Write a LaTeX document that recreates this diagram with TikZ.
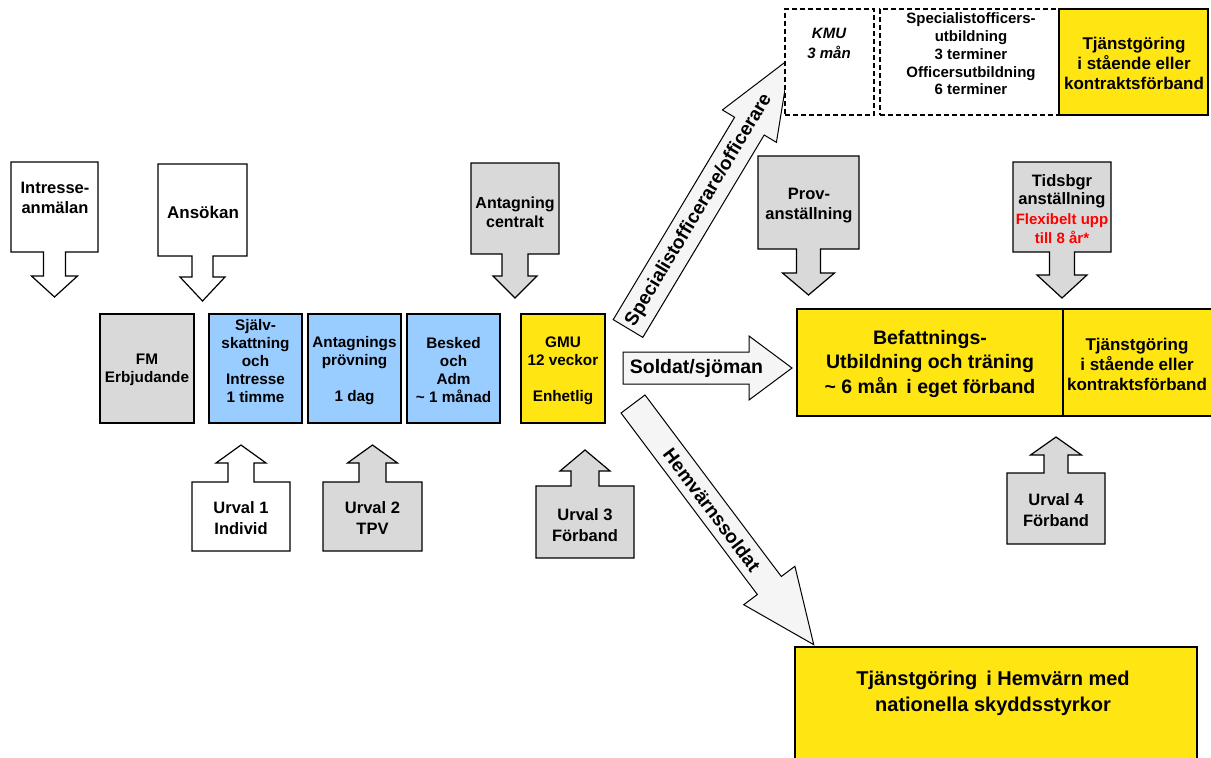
\documentclass[tikz,border=0pt]{standalone}
\usepackage{fontspec}
\setmainfont{Liberation Sans}
\definecolor{fmgray}{HTML}{D9D9D9}
\definecolor{fmblue}{HTML}{99CCFF}
\definecolor{fmyellow}{HTML}{FFE512}
\definecolor{arrowfill}{HTML}{F5F5F5}
\definecolor{fmred}{HTML}{FF0000}
\newcommand{\downcallout}[9]{%
  \draw[#1] (#2,#3) -- (#4,#3) -- (#4,#5) -- ({(#2+#4)/2+#6},#5) -- ({(#2+#4)/2+#6},#8)
    -- ({(#2+#4)/2+#7},#8) -- ({(#2+#4)/2},#9) -- ({(#2+#4)/2-#7},#8) -- ({(#2+#4)/2-#6},#8)
    -- ({(#2+#4)/2-#6},#5) -- (#2,#5) -- cycle;}
\newcommand{\upcallout}[9]{%
  \draw[#1] (#2,#5) -- (#2,#3) -- ({(#2+#4)/2-#6},#3) -- ({(#2+#4)/2-#6},#8)
    -- ({(#2+#4)/2-#7},#8) -- ({(#2+#4)/2},#9) -- ({(#2+#4)/2+#7},#8) -- ({(#2+#4)/2+#6},#8)
    -- ({(#2+#4)/2+#6},#3) -- (#4,#3) -- (#4,#5) -- cycle;}
\newcommand{\fatarrow}[7]{%
  \begin{scope}[shift={#2}, rotate=#3]
  \draw[#1] (0,-#5) -- ({#4-#7},-#5) -- ({#4-#7},-#6) -- (#4,0) -- ({#4-#7},#6) -- ({#4-#7},#5) -- (0,#5) -- cycle;
  \end{scope}}
\tikzset{
  every node/.style={inner sep=0pt, outer sep=0pt, align=center},
  fnt/.style 2 args={font=\fontsize{#1}{#2}\selectfont\bfseries},
  lw/.style={line width=1.2pt, draw=black, line join=miter},
  whitec/.style={lw, fill=white},
  grayc/.style={lw, fill=fmgray},
  arrowc/.style={lw, line width=1pt, fill=arrowfill},
  graybox/.style={lw, fill=fmgray},
  bluebox/.style={lw, fill=fmblue},
  yelbox/.style={lw, fill=fmyellow},
  dashbox/.style={line width=1.2pt, draw=black, dash pattern=on 5pt off 3pt, fill=white},
}
\begin{document}
\begin{tikzpicture}[x=1pt,y=-1pt]
\useasboundingbox (0,0) rectangle (1211,758);

% ---- top callouts (down) ----
\downcallout{whitec}{11}{162}{98}{252}{11}{23}{276}{297}
\node[fnt={16.5}{20.5}] (intresse) at (55,198) {Intresse-\\anmälan};
\downcallout{whitec}{158}{164}{247}{256}{10.5}{22.5}{277}{301}
\node[fnt={17}{20}] (ansokan) at (203,212) {Ansökan};
\downcallout{grayc}{471}{163}{559}{254}{13}{22}{276}{298}
\node[fnt={16}{19}] (antcentr) at (515,212) {Antagning\\centralt};
\downcallout{grayc}{758}{156}{859}{249}{12}{26}{273}{295}
\node[fnt={16.5}{20}] (prov) at (809,205.5) {Prov-\\anställning};
\downcallout{grayc}{1013}{162}{1111}{252}{12.5}{25}{275}{298}
\node[fnt={16.5}{18.5}] (tidsbgr) at (1062,191.5) {Tidsbgr\\anställning};
\node[fnt={15}{18.5}, text=fmred] (flex) at (1062,228.5) {Flexibelt upp\\till 8 år*};

% ---- row of boxes ----
\node[graybox, minimum width=94pt, minimum height=109pt] (fm) at (147,368.5) {};
\node[fnt={15.3}{18}] (fmt) at (147,369.5) {FM\\Erbjudande};
\node[bluebox, minimum width=93pt, minimum height=109pt] (sj) at (255.5,368.5) {};
\node[fnt={15.3}{18}] (sjt) at (255.5,361.5) {Själv-\\skattning\\och\\Intresse\\1 timme};
\node[bluebox, minimum width=93pt, minimum height=109pt] (ap) at (354.5,368.5) {};
\node[fnt={15.3}{18}] (apt) at (354.5,370.5) {Antagnings\\prövning\\\mbox{}\\1 dag};
\node[bluebox, minimum width=93pt, minimum height=109pt] (be) at (453.5,368.5) {};
\node[fnt={15.3}{18}] (bet) at (453.5,370.5) {Besked\\och\\Adm\\\textasciitilde{} 1 månad};
\node[yelbox, minimum width=84pt, minimum height=109pt] (gmu) at (563,368.5) {};
\node[fnt={15.3}{18}] (gmut) at (563,370.5) {GMU\\12 veckor\\\mbox{}\\Enhetlig};

% ---- bottom callouts (up) ----
\upcallout{whitec}{192}{482}{290}{551}{13}{25}{463}{445}
\node[fnt={16.5}{20.5}] (u1) at (241,518) {Urval 1\\Individ};
\upcallout{grayc}{323}{482}{422}{551}{13.5}{25}{463}{445}
\node[fnt={16.5}{20.5}] (u2) at (372.5,518) {Urval 2\\TPV};
\upcallout{grayc}{536}{486}{634}{558}{14}{25}{471}{450}
\node[fnt={16.5}{20.5}] (u3) at (585,525) {Urval 3\\Förband};
\upcallout{grayc}{1007}{473}{1105}{544}{12}{25.5}{455}{437}
\node[fnt={16.5}{20.5}] (u4) at (1056,510) {Urval 4\\Förband};

% ---- fat arrows ----
\fatarrow{arrowc}{(628,328.5)}{59.04}{315}{17.25}{31.5}{79}
\node[fnt={19}{22}, rotate=59.04] (spec) at (699,210) {Specialistofficerare/officerare};
\fatarrow{arrowc}{(623,368)}{0}{169}{16}{32}{43}
\node[fnt={19.5}{22}] (soldat) at (696.5,368) {Soldat/sjöman};
\fatarrow{arrowc}{(633,404)}{-53.09}{301}{15}{32}{74}
\node[fnt={19}{22}, rotate=-53.09] (hemv) at (712,510) {Hemvärnssoldat};

% ---- top right boxes ----
\node[dashbox, minimum width=89pt, minimum height=106pt] (kmu) at (829.5,62) {};
\node[font=\fontsize{15}{20}\selectfont\bfseries\itshape] (kmut) at (829,43) {KMU\\3 mån};
\node[dashbox, minimum width=179pt, minimum height=106pt] (spu) at (969.5,62) {};
\node[fnt={15}{17.7}] (sput) at (971,54) {Specialistofficers-\\utbildning\\3 terminer\\Officersutbildning\\6 terminer};
\node[yelbox, minimum width=149pt, minimum height=106pt] (tj1) at (1133.5,62) {};
\node[fnt={17}{20}] (tj1t) at (1134,63.5) {Tjänstgöring\\i stående eller\\kontraktsförband};

% ---- Befattnings box ----
\node[yelbox, minimum width=266pt, minimum height=107pt] (bef) at (930,362.5) {};
\node[yelbox, minimum width=160pt, minimum height=107pt, anchor=west] (tj2) at (bef.east) {};
\node[fnt={19.5}{24.5}] (beft) at (930,363.5) {Befattnings-\\Utbildning och träning\\\textasciitilde{} 6 mån \,i eget förband};
\node[fnt={17}{20}] (tj2t) at (1137,364) {Tjänstgöring\\i stående eller\\kontraktsförband};

% ---- Hemvärn box ----
\node[yelbox, minimum width=402pt, minimum height=140pt, anchor=north west] (hv) at (795,647) {};
\node[fnt={20}{26}] (hvt) at (993,693) {Tjänstgöring \,i Hemvärn med\\nationella skyddsstyrkor};
\end{tikzpicture}
\end{document}
